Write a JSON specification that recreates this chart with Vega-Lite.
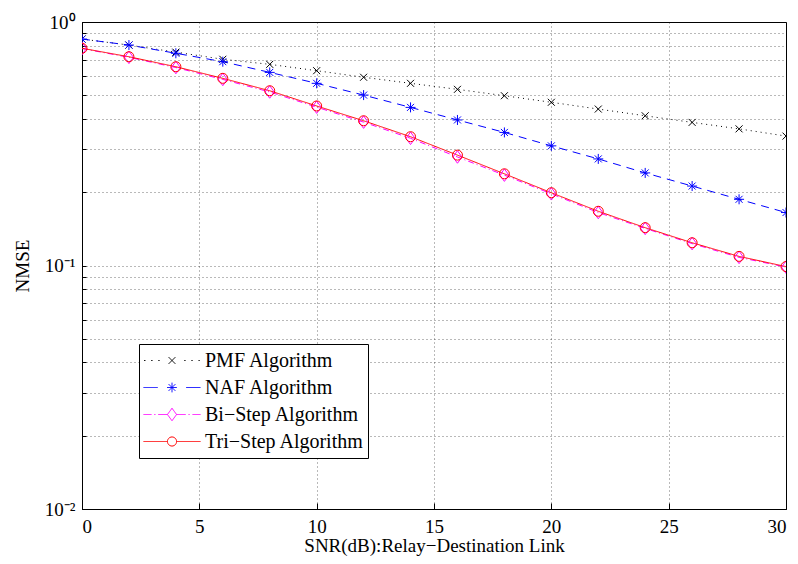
{
  "$schema": "https://vega.github.io/schema/vega-lite/v6.json",
  "width": 704,
  "height": 487,
  "autosize": {"type": "none"},
  "padding": {"left": 82, "top": 22, "right": 12, "bottom": 55},
  "background": "white",
  "config": {
    "font": "Liberation Serif",
    "view": {"stroke": "black", "strokeWidth": 1},
    "axis": {
      "labelFont": "Liberation Serif",
      "titleFont": "Liberation Serif",
      "labelFontSize": 19,
      "titleFontSize": 19,
      "titleFontWeight": "normal",
      "labelColor": "black",
      "titleColor": "black",
      "domainColor": "black",
      "tickColor": "black",
      "gridColor": "#000000",
      "gridOpacity": 0.55,
      "gridDash": [1, 3],
      "gridWidth": 1
    }
  },
  "data": {
    "values": [
      {"x": 0, "v": 0.851, "s": "PMF Algorithm", "k": "PMF"},
      {"x": 2, "v": 0.804, "s": "PMF Algorithm", "k": "PMF"},
      {"x": 4, "v": 0.752, "s": "PMF Algorithm", "k": "PMF"},
      {"x": 6, "v": 0.703, "s": "PMF Algorithm", "k": "PMF"},
      {"x": 8, "v": 0.67, "s": "PMF Algorithm", "k": "PMF"},
      {"x": 10, "v": 0.631, "s": "PMF Algorithm", "k": "PMF"},
      {"x": 12, "v": 0.593, "s": "PMF Algorithm", "k": "PMF"},
      {"x": 14, "v": 0.56, "s": "PMF Algorithm", "k": "PMF"},
      {"x": 16, "v": 0.529, "s": "PMF Algorithm", "k": "PMF"},
      {"x": 18, "v": 0.498, "s": "PMF Algorithm", "k": "PMF"},
      {"x": 20, "v": 0.468, "s": "PMF Algorithm", "k": "PMF"},
      {"x": 22, "v": 0.439, "s": "PMF Algorithm", "k": "PMF"},
      {"x": 24, "v": 0.412, "s": "PMF Algorithm", "k": "PMF"},
      {"x": 26, "v": 0.387, "s": "PMF Algorithm", "k": "PMF"},
      {"x": 28, "v": 0.364, "s": "PMF Algorithm", "k": "PMF"},
      {"x": 30, "v": 0.34, "s": "PMF Algorithm", "k": "PMF"},
      {"x": 0, "v": 0.851, "s": "NAF Algorithm", "k": "NAF"},
      {"x": 2, "v": 0.804, "s": "NAF Algorithm", "k": "NAF"},
      {"x": 4, "v": 0.744, "s": "NAF Algorithm", "k": "NAF"},
      {"x": 6, "v": 0.687, "s": "NAF Algorithm", "k": "NAF"},
      {"x": 8, "v": 0.621, "s": "NAF Algorithm", "k": "NAF"},
      {"x": 10, "v": 0.56, "s": "NAF Algorithm", "k": "NAF"},
      {"x": 12, "v": 0.501, "s": "NAF Algorithm", "k": "NAF"},
      {"x": 14, "v": 0.446, "s": "NAF Algorithm", "k": "NAF"},
      {"x": 16, "v": 0.396, "s": "NAF Algorithm", "k": "NAF"},
      {"x": 18, "v": 0.352, "s": "NAF Algorithm", "k": "NAF"},
      {"x": 20, "v": 0.31, "s": "NAF Algorithm", "k": "NAF"},
      {"x": 22, "v": 0.274, "s": "NAF Algorithm", "k": "NAF"},
      {"x": 24, "v": 0.24, "s": "NAF Algorithm", "k": "NAF"},
      {"x": 26, "v": 0.212, "s": "NAF Algorithm", "k": "NAF"},
      {"x": 28, "v": 0.187, "s": "NAF Algorithm", "k": "NAF"},
      {"x": 30, "v": 0.165, "s": "NAF Algorithm", "k": "NAF"},
      {"x": 0, "v": 0.778, "s": "Bi\u2212Step Algorithm", "k": "Bi"},
      {"x": 2, "v": 0.716, "s": "Bi\u2212Step Algorithm", "k": "Bi"},
      {"x": 4, "v": 0.65, "s": "Bi\u2212Step Algorithm", "k": "Bi"},
      {"x": 6, "v": 0.581, "s": "Bi\u2212Step Algorithm", "k": "Bi"},
      {"x": 8, "v": 0.516, "s": "Bi\u2212Step Algorithm", "k": "Bi"},
      {"x": 10, "v": 0.447, "s": "Bi\u2212Step Algorithm", "k": "Bi"},
      {"x": 12, "v": 0.388, "s": "Bi\u2212Step Algorithm", "k": "Bi"},
      {"x": 14, "v": 0.333, "s": "Bi\u2212Step Algorithm", "k": "Bi"},
      {"x": 16, "v": 0.279, "s": "Bi\u2212Step Algorithm", "k": "Bi"},
      {"x": 18, "v": 0.235, "s": "Bi\u2212Step Algorithm", "k": "Bi"},
      {"x": 20, "v": 0.197, "s": "Bi\u2212Step Algorithm", "k": "Bi"},
      {"x": 22, "v": 0.165, "s": "Bi\u2212Step Algorithm", "k": "Bi"},
      {"x": 24, "v": 0.142, "s": "Bi\u2212Step Algorithm", "k": "Bi"},
      {"x": 26, "v": 0.123, "s": "Bi\u2212Step Algorithm", "k": "Bi"},
      {"x": 28, "v": 0.108, "s": "Bi\u2212Step Algorithm", "k": "Bi"},
      {"x": 30, "v": 0.0985, "s": "Bi\u2212Step Algorithm", "k": "Bi"},
      {"x": 0, "v": 0.78, "s": "Tri\u2212Step Algorithm", "k": "Tri"},
      {"x": 2, "v": 0.72, "s": "Tri\u2212Step Algorithm", "k": "Tri"},
      {"x": 4, "v": 0.655, "s": "Tri\u2212Step Algorithm", "k": "Tri"},
      {"x": 6, "v": 0.587, "s": "Tri\u2212Step Algorithm", "k": "Tri"},
      {"x": 8, "v": 0.522, "s": "Tri\u2212Step Algorithm", "k": "Tri"},
      {"x": 10, "v": 0.452, "s": "Tri\u2212Step Algorithm", "k": "Tri"},
      {"x": 12, "v": 0.393, "s": "Tri\u2212Step Algorithm", "k": "Tri"},
      {"x": 14, "v": 0.338, "s": "Tri\u2212Step Algorithm", "k": "Tri"},
      {"x": 16, "v": 0.284, "s": "Tri\u2212Step Algorithm", "k": "Tri"},
      {"x": 18, "v": 0.238, "s": "Tri\u2212Step Algorithm", "k": "Tri"},
      {"x": 20, "v": 0.199, "s": "Tri\u2212Step Algorithm", "k": "Tri"},
      {"x": 22, "v": 0.167, "s": "Tri\u2212Step Algorithm", "k": "Tri"},
      {"x": 24, "v": 0.143, "s": "Tri\u2212Step Algorithm", "k": "Tri"},
      {"x": 26, "v": 0.124, "s": "Tri\u2212Step Algorithm", "k": "Tri"},
      {"x": 28, "v": 0.109, "s": "Tri\u2212Step Algorithm", "k": "Tri"},
      {"x": 30, "v": 0.099, "s": "Tri\u2212Step Algorithm", "k": "Tri"}
    ]
  },
  "encoding": {
    "x": {
      "field": "x",
      "type": "quantitative",
      "scale": {"domain": [0, 30], "nice": false, "zero": false},
      "axis": {
        "values": [0, 5, 10, 15, 20, 25, 30],
        "grid": true,
        "tickSize": -6,
        "labelPadding": 14,
        "title": "SNR(dB):Relay\u2212Destination Link",
        "titlePadding": 0
      }
    },
    "y": {
      "field": "v",
      "type": "quantitative",
      "scale": {"type": "log", "domain": [0.01, 1], "nice": false},
      "axis": {
        "values": [0.01, 0.02, 0.03, 0.04, 0.05, 0.06, 0.07, 0.08, 0.09, 0.1, 0.2, 0.3, 0.4, 0.5, 0.6, 0.7, 0.8, 0.9, 1],
        "grid": true,
        "tickSize": -4,
        "labelOverlap": false,
        "labelPadding": 11,
        "labelExpr": "datum.value == 1 ? '10\u2070' : (abs(datum.value - 0.1) < 1e-9 ? '10\u207b\u00b9' : (abs(datum.value - 0.01) < 1e-9 ? '10\u207b\u00b2' : ''))",
        "title": "NMSE",
        "titlePadding": 12
      }
    }
  },
  "layer": [
    {
      "mark": {"type": "line", "strokeWidth": 1, "clip": true},
      "encoding": {
        "color": {
          "field": "s",
          "type": "nominal",
          "scale": {
            "domain": ["PMF Algorithm", "NAF Algorithm", "Bi\u2212Step Algorithm", "Tri\u2212Step Algorithm"],
            "range": ["#000000", "#0000ff", "#ff00ff", "#ff0000"]
          },
          "legend": {
            "title": null,
            "orient": "none",
            "legendX": 57,
            "legendY": 322,
            "strokeColor": "black",
            "fillColor": "white",
            "padding": 4,
            "labelFont": "Liberation Serif",
            "labelFontSize": 20,
            "labelColor": "black",
            "labelOffset": 4,
            "symbolSize": 3249,
            "clipHeight": 25,
            "rowPadding": 2,
            "symbolStrokeWidth": 1,
            "encode": {
              "symbols": {
                "update": {
                  "shape": {"signal": "datum.value == 'PMF Algorithm' ? 'M-0.98,0h0.05M-0.73,0h0.05M-0.48,0h0.05M0.43,0h0.05M0.68,0h0.05M0.93,0h0.05M-0.12,-0.12L0.12,0.12M-0.12,0.12L0.12,-0.12' : (datum.value == 'NAF Algorithm' ? 'M-1,0H-0.5M0.5,0H1M0,-0.17V0.17M-0.17,0H0.17M-0.12,-0.12L0.12,0.12M-0.12,0.12L0.12,-0.12' : (datum.value == 'Tri\u2212Step Algorithm' ? 'M-1,0H-0.16M0.16,0H1M0.16,0A0.16,0.16,0,1,1,-0.16,0A0.16,0.16,0,1,1,0.16,0' : 'M-1,0H-0.72M-0.62,0H-0.58M-0.48,0H-0.16M0.16,0H0.48M0.58,0H0.62M0.72,0H1M0,-0.22L0.16,0L0,0.22L-0.16,0Z'))"},
                  "fill": {"value": "transparent"},
                  "strokeDash": {"value": [1, 0]},
                  "strokeWidth": {"value": 1},
                  "opacity": {"value": 1}
                }
              }
            }
          }
        },
        "strokeDash": {
          "field": "k",
          "type": "nominal",
          "scale": {
            "domain": ["PMF", "NAF", "Bi", "Tri"],
            "range": [[1, 4], [8, 6], [6, 3, 1, 3], [1, 0]]
          },
          "legend": null
        }
      }
    },
    {
      "mark": {"type": "point", "filled": false, "strokeWidth": 1, "size": 100, "opacity": 1, "clip": true},
      "encoding": {
        "stroke": {
          "field": "k",
          "type": "nominal",
          "scale": {
            "domain": ["PMF", "NAF", "Bi", "Tri"],
            "range": ["#000000", "#0000ff", "#ff00ff", "#ff0000"]
          },
          "legend": null
        },
        "shape": {
          "field": "k",
          "type": "nominal",
          "scale": {
            "domain": ["PMF", "NAF", "Bi", "Tri"],
            "range": [
              "M-0.7,-0.7L0.7,0.7M-0.7,0.7L0.7,-0.7",
              "M0,-1V1M-1,0H1M-0.7,-0.7L0.7,0.7M-0.7,0.7L0.7,-0.7",
              "M0,-1.25L0.9,0L0,1.25L-0.9,0Z",
              "circle"
            ]
          },
          "legend": null
        }
      }
    }
  ]
}
